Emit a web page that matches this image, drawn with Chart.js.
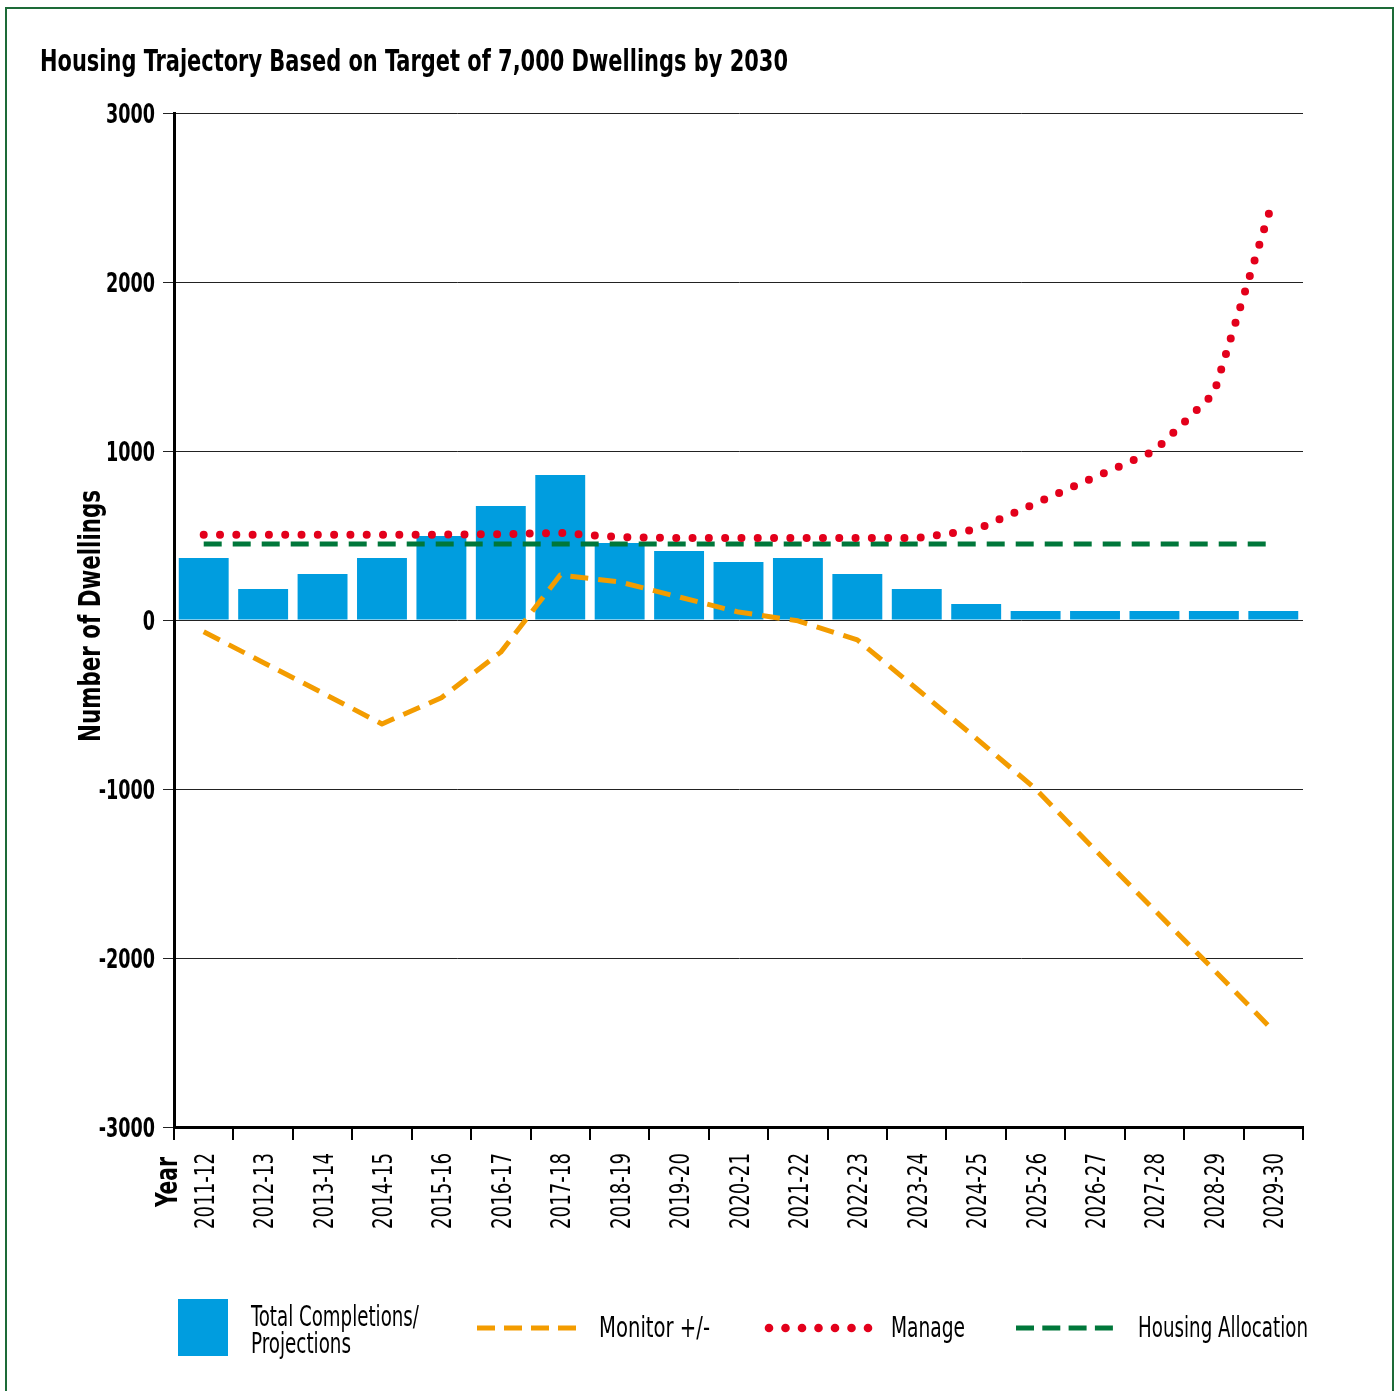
<!DOCTYPE html>
<html>
<head>
<meta charset="utf-8">
<script src="https://cdn.jsdelivr.net/npm/chart.js@4.4.1/dist/chart.umd.min.js"></script>
<style>
  html, body { margin: 0; padding: 0; background: #fff; }
  #wrap { position: relative; width: 1399px; height: 1391px; overflow: hidden; }
  #frame { position: absolute; left: 5px; top: 7px; width: 1389px; height: 1400px; border: 2px solid #1d6b38; box-sizing: border-box; pointer-events: none; }
  canvas { position: absolute; left: 0; top: 0; }
</style>
</head>
<body>
<div id="wrap">
  <canvas id="trajectoryChart" width="1399" height="1391"></canvas>
  <div id="frame"></div>
</div>
<script>
// Años (categorías)
const years = ["2011-12", "2012-13", "2013-14", "2014-15", "2015-16", "2016-17", "2017-18",
  "2018-19", "2019-20", "2020-21", "2021-22", "2022-23", "2023-24", "2024-25", "2025-26",
  "2026-27", "2027-28", "2028-29", "2029-30"];

// Series
const completions = [367, 183, 272, 367, 497, 675, 858, 456, 408, 343, 367, 272, 183, 95, 53, 53, 53, 53, 53];
const monitor = [-70, -251, -432, -615, -460, -190, 266, 225, 136, 47, -5, -118, -407, -700, -1000, -1360, -1716, -2070, -2430];
const manage = [505, 505, 505, 505, 505, 508, 515, 490, 485, 485, 485, 485, 485, 535, 690, 846, 1000, 1340, 2490];
const allocation = [450, 450, 450, 450, 450, 450, 450, 450, 450, 450, 450, 450, 450, 450, 450, 450, 450, 450, 450];

// Eje Y
const yTicks = [3000, 2000, 1000, 0, -1000, -2000, -3000];
const yMin = -3000;
const yMax = 3000;
const yStep = 1000;

const chartTitle = "Housing Trajectory Based on Target of 7,000 Dwellings by 2030";
const yTitle = "Number of Dwellings";
const xTitle = "Year";

const BLUE = "#009ddf";
const ORANGE = "#f39c00";
const RED = "#e3001b";
const GREEN = "#00773a";
const NARROW = "'Liberation Sans Narrow', 'DejaVu Sans Condensed', 'Roboto', sans-serif";

// texto con escala horizontal fija
function drawScaled(ctx, text, x, y, sx, font, align, rotate) {
  ctx.save();
  ctx.translate(x, y);
  if (rotate) ctx.rotate(-Math.PI / 2);
  ctx.font = font;
  ctx.textAlign = "left";
  ctx.textBaseline = "alphabetic";
  const w = ctx.measureText(text).width;
  ctx.scale(sx, 1);
  let dx = 0;
  if (align === "right") dx = -w;
  if (align === "center") dx = -w / 2;
  ctx.fillStyle = "#000";
  ctx.fillText(text, dx, 0);
  ctx.restore();
}

// texto comprimido horizontalmente hasta el ancho deseado
function fitText(ctx, text, x, y, width, font, align, rotate) {
  ctx.save();
  ctx.font = font;
  const w = ctx.measureText(text).width;
  ctx.restore();
  drawScaled(ctx, text, x, y, width / w, font, align, rotate);
}

function dashSample(ctx, x1, x2, y, color, dash) {
  ctx.save();
  ctx.strokeStyle = color;
  ctx.lineWidth = 5;
  ctx.setLineDash(dash);
  ctx.beginPath();
  ctx.moveTo(x1, y);
  ctx.lineTo(x2, y);
  ctx.stroke();
  ctx.restore();
}

const textPlugin = {
  id: "textPlugin",
  afterDraw(chart) {
    const ctx = chart.ctx;
    const xScale = chart.scales.x;
    const yScale = chart.scales.y;

    fitText(ctx, chartTitle, 40, 71, 748, "bold 31px " + NARROW, "left");
    fitText(ctx, yTitle, 100, 616, 252, "bold 31px " + NARROW, "center", true);
    fitText(ctx, xTitle, 177, 1182, 50, "bold 31px " + NARROW, "center", true);

    // etiquetas del eje Y
    const tickFont = "bold 27px " + NARROW;
    ctx.save();
    ctx.font = tickFont;
    const sy = 49 / ctx.measureText("3000").width;
    ctx.restore();
    yTicks.forEach((v) => {
      drawScaled(ctx, String(v), 155, yScale.getPixelForValue(v) + 10, sy, tickFont, "right");
    });

    // etiquetas del eje X
    years.forEach((label, i) => {
      const x = xScale.getPixelForValue(i);
      fitText(ctx, label, x + 10, 1153, 76, "27px " + NARROW, "right", true);
    });

    // Leyenda
    ctx.fillStyle = BLUE;
    ctx.fillRect(178, 1299, 50, 57);
    fitText(ctx, "Total Completions/", 251, 1326, 168, "29px " + NARROW, "left");
    fitText(ctx, "Projections", 251, 1353, 100, "29px " + NARROW, "left");

    dashSample(ctx, 477, 576, 1328, ORANGE, [18, 9]);
    fitText(ctx, "Monitor +/-", 599, 1337, 111, "29px " + NARROW, "left");

    ctx.fillStyle = RED;
    for (let k = 0; k < 7; k++) {
      ctx.beginPath();
      ctx.arc(769 + k * 16.5, 1328, 4.3, 0, Math.PI * 2);
      ctx.fill();
    }
    fitText(ctx, "Manage", 891, 1337, 74, "29px " + NARROW, "left");

    dashSample(ctx, 1016, 1113, 1328, GREEN, [18, 8.3]);
    fitText(ctx, "Housing Allocation", 1138, 1337, 170, "29px " + NARROW, "left");
  }
};

const ctx = document.getElementById("trajectoryChart").getContext("2d");
new Chart(ctx, {
  type: "bar",
  data: {
    labels: years,
    datasets: [
      {
        type: "line",
        label: "Monitor +/-",
        data: monitor,
        borderColor: ORANGE,
        borderWidth: 5,
        borderDash: [18, 10],
        borderJoinStyle: "round",
        pointRadius: 0,
        tension: 0,
        order: 1,
      },
      {
        type: "line",
        label: "Manage",
        data: manage,
        borderColor: RED,
        borderWidth: 8,
        borderDash: [0, 16.3],
        borderCapStyle: "round",
        pointRadius: 0,
        tension: 0,
        order: 2,
      },
      {
        type: "line",
        label: "Housing Allocation",
        data: allocation,
        borderColor: GREEN,
        borderWidth: 5,
        borderDash: [18, 11],
        pointRadius: 0,
        tension: 0,
        order: 3,
      },
      {
        type: "bar",
        label: "Total Completions/Projections",
        data: completions,
        backgroundColor: BLUE,
        barPercentage: 0.84,
        categoryPercentage: 1.0,
        order: 10,
      },
    ],
  },
  options: {
    responsive: false,
    animation: false,
    layout: { padding: { top: 113, right: 96, bottom: 0, left: 0 } },
    plugins: {
      legend: { display: false },
      tooltip: { enabled: false },
    },
    scales: {
      x: {
        offset: true,
        afterFit: (scale) => { scale.height = 1391 - 1127; },
        ticks: { display: false },
        grid: {
          offset: true,
          drawOnChartArea: false,
          drawTicks: true,
          tickLength: 13,
          color: "#000",
          lineWidth: 2,
        },
        border: { display: true, color: "#000", width: 3 },
      },
      y: {
        min: yMin,
        max: yMax,
        afterFit: (scale) => { scale.width = 174; },
        ticks: { stepSize: yStep, display: false },
        grid: {
          color: "#222",
          lineWidth: 1,
          tickLength: 11,
        },
        border: { display: true, color: "#000", width: 3 },
      },
    },
  },
  plugins: [textPlugin],
});
</script>
</body>
</html>
